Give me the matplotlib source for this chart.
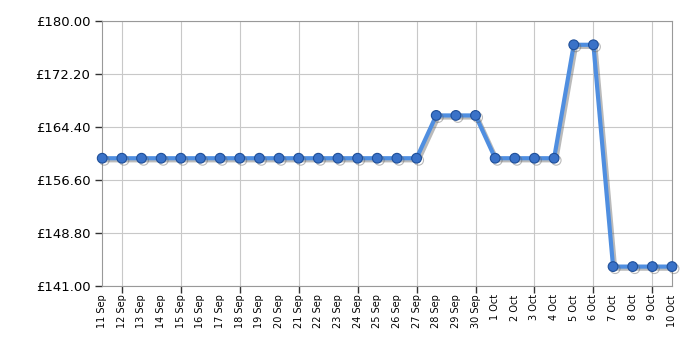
import matplotlib
matplotlib.use("Agg")
import matplotlib.pyplot as plt
import matplotlib.patheffects as pe

dates = ["11 Sep", "12 Sep", "13 Sep", "14 Sep", "15 Sep", "16 Sep", "17 Sep", "18 Sep",
         "19 Sep", "20 Sep", "21 Sep", "22 Sep", "23 Sep", "24 Sep", "25 Sep", "26 Sep",
         "27 Sep", "28 Sep", "29 Sep", "30 Sep", "1 Oct", "2 Oct", "3 Oct", "4 Oct",
         "5 Oct", "6 Oct", "7 Oct", "8 Oct", "9 Oct", "10 Oct"]
prices = [159.8] * 17 + [166.1, 166.1, 166.1] + [159.8] * 4 + [176.5, 176.5] + [143.85] * 4
y_ticks = [141.0, 148.8, 156.6, 164.4, 172.2, 180.0]

fig = plt.figure(figsize=(7, 3.5), dpi=100)
ax = fig.add_axes([0.146, 0.183, 0.814, 0.757])

x = list(range(len(dates)))
ax.plot(x, prices, color="#4f8ee0", lw=3, marker="o", ms=7,
        mfc="#3a72c8", mec="#1f4f99", mew=0.8, zorder=3, clip_on=False,
        path_effects=[pe.SimpleLineShadow(offset=(1.5, -1.5), shadow_color="#666666", alpha=0.45),
                      pe.Normal()])

ax.set_xlim(0, len(dates) - 1)
ax.set_ylim(141, 180)
ax.set_yticks(y_ticks)
ax.set_yticklabels(["£%.2f" % v for v in y_ticks], fontsize=9.5)
ax.tick_params(axis="y", length=5, width=1, color="#333333", direction="out")

# labels on every day
ax.set_xticks(x)
ax.set_xticklabels(dates, rotation=90, fontsize=7)
ax.tick_params(axis="x", length=0, pad=6)

# tick marks and grid every third day
grid_x = list(range(1, len(dates), 3))
sec = ax.secondary_xaxis("bottom")
sec.set_xticks(grid_x)
sec.set_xticklabels([])
sec.tick_params(axis="x", length=5, width=1, color="#333333", direction="out")
sec.spines["bottom"].set_visible(False)
for gx in grid_x:
    ax.axvline(gx, color="#c8c8c8", lw=0.8, zorder=0)
ax.yaxis.grid(True, color="#c8c8c8", lw=0.8)
ax.set_axisbelow(True)

for s in ax.spines.values():
    s.set_color("#999999")

fig.savefig("out.png", dpi=100)
